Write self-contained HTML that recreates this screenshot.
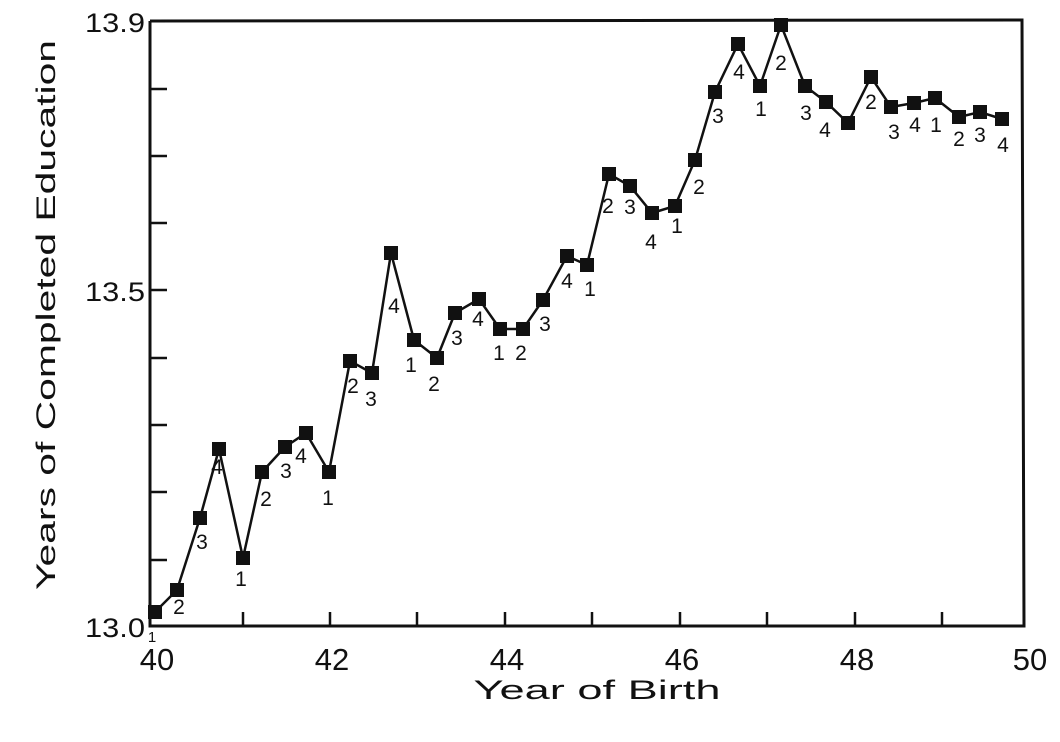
<!DOCTYPE html>
<html><head><meta charset="utf-8"><style>
html,body{margin:0;padding:0;background:#fff;}
svg{display:block;}
text{font-family:"Liberation Sans",sans-serif;fill:#111;}
</style></head><body>
<svg width="1060" height="742" viewBox="0 0 1060 742">
<g stroke="#111" stroke-width="3" fill="none">
<polyline points="150,21 1022,20 1024,626 150,626 150,21"/>
</g>
<g stroke="#111" stroke-width="2.5">
<line x1="150" y1="89" x2="167" y2="89"/>
<line x1="150" y1="156" x2="167" y2="156"/>
<line x1="150" y1="223" x2="167" y2="223"/>
<line x1="150" y1="290" x2="167" y2="290"/>
<line x1="150" y1="358" x2="167" y2="358"/>
<line x1="150" y1="425" x2="167" y2="425"/>
<line x1="150" y1="492" x2="167" y2="492"/>
<line x1="150" y1="560" x2="167" y2="560"/>
<line x1="243" y1="626" x2="243" y2="612"/>
<line x1="330" y1="626" x2="330" y2="612"/>
<line x1="417" y1="626" x2="417" y2="612"/>
<line x1="505" y1="626" x2="505" y2="612"/>
<line x1="592" y1="626" x2="592" y2="612"/>
<line x1="680" y1="626" x2="680" y2="612"/>
<line x1="767" y1="626" x2="767" y2="612"/>
<line x1="855" y1="626" x2="855" y2="612"/>
<line x1="942" y1="626" x2="942" y2="612"/>
</g>
<g font-size="27" text-anchor="end">
<text x="145" y="32" textLength="60" lengthAdjust="spacingAndGlyphs">13.9</text>
<text x="145" y="301" textLength="60" lengthAdjust="spacingAndGlyphs">13.5</text>
<text x="145" y="637" textLength="60" lengthAdjust="spacingAndGlyphs">13.0</text>
</g>
<g font-size="31" text-anchor="middle">
<text x="157" y="670">40</text>
<text x="332" y="670">42</text>
<text x="507" y="670">44</text>
<text x="682" y="670">46</text>
<text x="857" y="670">48</text>
<text x="1030" y="670">50</text>
<text x="597" y="699" font-size="27" textLength="247" lengthAdjust="spacingAndGlyphs">Year of Birth</text>
<text transform="translate(55,315) rotate(-90)" font-size="27" textLength="550" lengthAdjust="spacingAndGlyphs">Years of Completed Education</text>
</g>
<polyline fill="none" stroke="#111" stroke-width="2.5" points="155,612 177,590 200,518 219,449 243,558 262,472 285,447 306,433 329,472 350,361 372,373 391,253 414,340 437,358 455,313 479,299 500,329 523,329 543,300 567,256 587,265 609,174 630,186 652,213 675,206 695,160 715,92 738,44 760,86 781,25 805,86 826,102 848,123 871,77 891,107 914,103 935,98 959,117 980,112 1002,119"/>
<g fill="#111">
<rect x="148" y="605" width="14" height="14"/><rect x="170" y="583" width="14" height="14"/><rect x="193" y="511" width="14" height="14"/><rect x="212" y="442" width="14" height="14"/><rect x="236" y="551" width="14" height="14"/><rect x="255" y="465" width="14" height="14"/><rect x="278" y="440" width="14" height="14"/><rect x="299" y="426" width="14" height="14"/><rect x="322" y="465" width="14" height="14"/><rect x="343" y="354" width="14" height="14"/><rect x="365" y="366" width="14" height="14"/><rect x="384" y="246" width="14" height="14"/><rect x="407" y="333" width="14" height="14"/><rect x="430" y="351" width="14" height="14"/><rect x="448" y="306" width="14" height="14"/><rect x="472" y="292" width="14" height="14"/><rect x="493" y="322" width="14" height="14"/><rect x="516" y="322" width="14" height="14"/><rect x="536" y="293" width="14" height="14"/><rect x="560" y="249" width="14" height="14"/><rect x="580" y="258" width="14" height="14"/><rect x="602" y="167" width="14" height="14"/><rect x="623" y="179" width="14" height="14"/><rect x="645" y="206" width="14" height="14"/><rect x="668" y="199" width="14" height="14"/><rect x="688" y="153" width="14" height="14"/><rect x="708" y="85" width="14" height="14"/><rect x="731" y="37" width="14" height="14"/><rect x="753" y="79" width="14" height="14"/><rect x="774" y="18" width="14" height="14"/><rect x="798" y="79" width="14" height="14"/><rect x="819" y="95" width="14" height="14"/><rect x="841" y="116" width="14" height="14"/><rect x="864" y="70" width="14" height="14"/><rect x="884" y="100" width="14" height="14"/><rect x="907" y="96" width="14" height="14"/><rect x="928" y="91" width="14" height="14"/><rect x="952" y="110" width="14" height="14"/><rect x="973" y="105" width="14" height="14"/><rect x="995" y="112" width="14" height="14"/>
</g>
<g font-size="21" text-anchor="middle">
<text x="152" y="642" font-size="15">1</text>
<text x="179" y="614">2</text><text x="202" y="549">3</text><text x="217" y="474">4</text>
<text x="241" y="586">1</text><text x="266" y="506">2</text><text x="286" y="478">3</text><text x="301" y="463">4</text>
<text x="328" y="505">1</text><text x="353" y="393">2</text><text x="371" y="406">3</text><text x="394" y="313">4</text>
<text x="411" y="372">1</text><text x="434" y="391">2</text><text x="457" y="345">3</text><text x="478" y="326">4</text>
<text x="499" y="360">1</text><text x="521" y="360">2</text><text x="545" y="331">3</text><text x="567" y="288">4</text>
<text x="590" y="296">1</text><text x="608" y="213">2</text><text x="630" y="214">3</text><text x="651" y="249">4</text>
<text x="677" y="233">1</text><text x="699" y="194">2</text><text x="718" y="123">3</text><text x="739" y="79">4</text>
<text x="761" y="116">1</text><text x="781" y="70">2</text><text x="806" y="120">3</text><text x="825" y="137">4</text>
<text x="871" y="109">2</text><text x="894" y="139">3</text><text x="915" y="132">4</text>
<text x="936" y="132">1</text><text x="959" y="146">2</text><text x="980" y="142">3</text><text x="1003" y="152">4</text>
</g>
</svg>
</body></html>
